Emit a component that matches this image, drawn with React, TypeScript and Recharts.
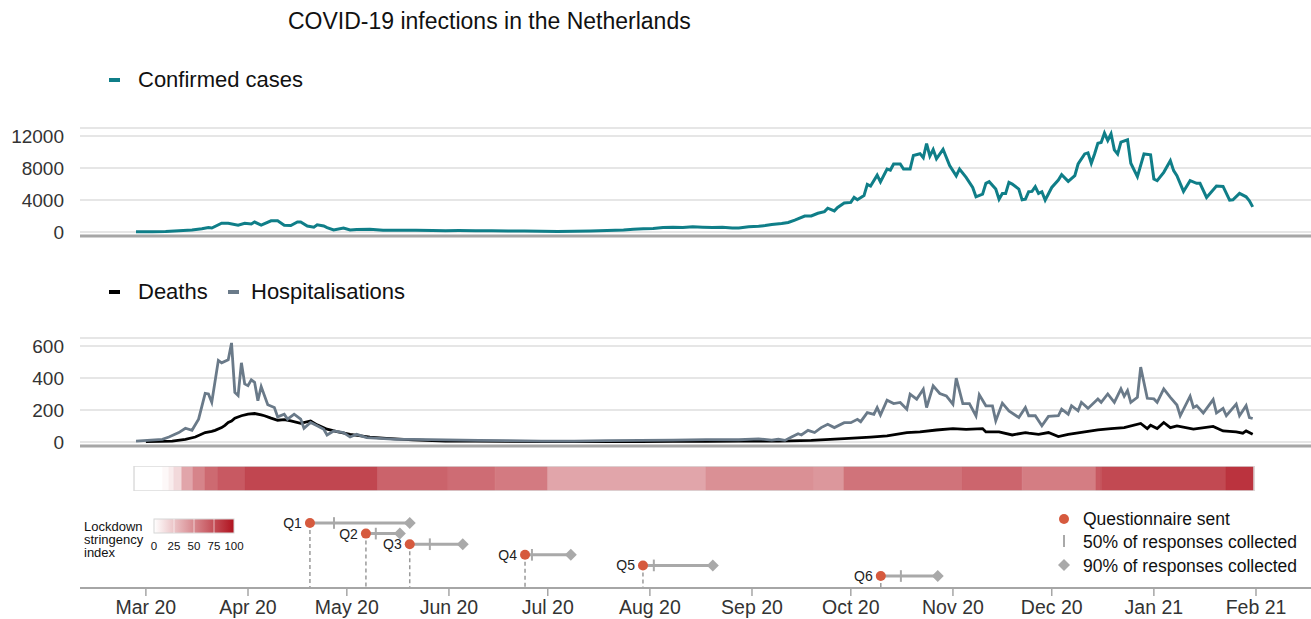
import React from "react";
import {
  LineChart, Line, ComposedChart, Scatter, XAxis, YAxis, CartesianGrid,
  ReferenceLine, ReferenceArea,
} from "recharts";

// days counted from 1 Mar 2020
const monthTicks = [0, 31, 61, 92, 122, 153, 184, 214, 245, 275, 306, 337];
const monthLabels = ["Mar 20", "Apr 20", "May 20", "Jun 20", "Jul 20", "Aug 20", "Sep 20", "Oct 20", "Nov 20", "Dec 20", "Jan 21", "Feb 21"];

const confirmedCases: [number, number][] = [
  [-3, 30], [2, 40], [6, 60], [10, 150], [14, 250], [17, 400], [19, 550], [20, 500], [23, 1100], [25, 1100],
  [28, 850], [30, 1100], [32, 1000], [33, 1250], [35, 850], [38, 1400], [40, 1400], [42, 850], [44, 800], [46, 1250],
  [47, 1250], [49, 750], [51, 600], [52, 900], [54, 750], [55, 550], [57, 250], [60, 500], [62, 250], [64, 300],
  [68, 350], [72, 230], [77, 220], [82, 220], [87, 200], [91, 170], [95, 180], [100, 150], [105, 170], [110, 130],
  [115, 120], [120, 80], [125, 70], [130, 90], [135, 130], [140, 180], [145, 250], [148, 350], [151, 400], [154, 450],
  [157, 550], [160, 600], [163, 550], [166, 650], [169, 600], [172, 550], [175, 600], [178, 500], [180, 510], [183, 650],
  [186, 720], [188, 800], [190, 940], [193, 1050], [195, 1190], [197, 1490], [200, 2000], [202, 2000], [204, 2340], [206, 2550],
  [207, 2980], [209, 2640], [210, 3060], [212, 3620], [214, 3700], [215, 4340], [216, 4040], [218, 4550], [219, 5960], [220, 5740],
  [222, 7100], [223, 6250], [225, 7870], [226, 7740], [227, 8510], [229, 8510], [230, 7870], [232, 7870], [233, 9570], [235, 9790],
  [236, 9280], [237, 11060], [238, 9490], [239, 10300], [240, 9150], [242, 10340], [244, 8300], [246, 7020], [247, 7880], [249, 6830],
  [251, 5570], [252, 4400], [254, 4730], [255, 6080], [256, 6290], [258, 5360], [259, 4100], [260, 4820], [261, 4820], [262, 6200],
  [263, 5990], [265, 5360], [266, 4020], [267, 4100], [268, 5030], [269, 5070], [270, 5660], [271, 4820], [272, 5030], [273, 3980],
  [275, 5570], [277, 6490], [278, 7160], [280, 6330], [282, 7040], [283, 8500], [285, 9760], [286, 9890], [287, 8590], [288, 9760],
  [289, 11100], [290, 11190], [291, 12360], [292, 11440], [293, 12280], [294, 10270], [295, 9760], [296, 11230], [298, 11520], [299, 8590],
  [301, 6910], [303, 9760], [305, 9640], [306, 6620], [307, 6410], [309, 7460], [311, 8920], [312, 7670], [313, 7040], [315, 5070],
  [317, 6410], [319, 6080], [320, 6080], [322, 4320], [325, 5740], [327, 5700], [329, 3980], [330, 4020], [332, 4820], [334, 4400],
  [335, 3900], [336, 3140],
];

const hospitalisations: [number, number][] = [
  [-3, 6], [5, 17], [7, 31], [10, 59], [12, 86], [14, 73], [16, 143], [18, 304], [19, 300], [20, 248],
  [22, 510], [23, 495], [25, 514], [26, 619], [27, 310], [28, 290], [29, 495], [30, 363], [31, 352], [32, 388],
  [33, 373], [34, 258], [35, 346], [37, 233], [39, 216], [40, 157], [42, 174], [43, 143], [45, 174], [47, 143],
  [48, 86], [50, 122], [52, 101], [54, 80], [55, 44], [57, 69], [60, 59], [62, 31], [64, 48], [67, 27],
  [71, 23], [76, 17], [81, 17], [91, 13], [101, 10], [110, 8], [120, 6], [130, 5], [140, 8], [150, 10],
  [160, 12], [170, 15], [180, 14], [186, 20], [190, 12], [192, 17], [194, 10], [196, 31], [198, 52], [199, 44],
  [201, 73], [203, 59], [205, 90], [207, 111], [209, 90], [212, 121], [214, 121], [216, 142], [217, 127], [219, 184],
  [221, 173], [222, 215], [223, 169], [225, 261], [227, 240], [229, 247], [231, 205], [232, 299], [234, 268], [235, 299],
  [236, 330], [237, 215], [239, 351], [241, 303], [243, 288], [245, 236], [246, 399], [248, 240], [250, 240], [252, 163],
  [253, 295], [255, 226], [257, 226], [258, 132], [260, 243], [262, 194], [265, 153], [267, 216], [268, 164], [270, 164],
  [272, 101], [274, 160], [277, 164], [278, 206], [280, 174], [281, 227], [283, 195], [284, 248], [286, 210], [289, 269],
  [290, 248], [292, 300], [294, 248], [296, 332], [297, 286], [298, 321], [299, 248], [301, 279], [302, 468], [304, 273],
  [306, 269], [307, 248], [309, 332], [311, 279], [313, 231], [314, 164], [317, 286], [318, 216], [319, 227], [321, 181],
  [324, 265], [325, 181], [327, 210], [328, 164], [331, 237], [332, 164], [334, 227], [335, 153], [336, 147],
];

const deaths: [number, number][] = [
  [0, 2], [8, 6], [12, 17], [15, 31], [18, 59], [20, 66], [21, 73], [23, 90], [24, 104], [25, 122], [26, 131],
  [27, 149], [29, 164], [31, 174], [33, 178], [35, 170], [36, 164], [38, 149], [40, 136], [42, 140], [44, 132],
  [47, 117], [50, 132], [52, 107], [55, 80], [58, 65], [62, 48], [68, 31], [73, 23], [81, 13], [91, 6],
  [100, 5], [110, 4], [120, 3], [130, 2], [140, 2], [150, 3], [160, 4], [170, 4], [180, 5], [192, 6],
  [202, 10], [212, 21], [220, 31], [225, 38], [231, 59], [235, 63], [240, 75], [245, 84], [249, 79], [254, 84],
  [255, 63], [259, 63], [263, 44], [267, 59], [268, 55], [271, 48], [274, 59], [277, 34], [280, 48], [285, 63],
  [289, 76], [293, 84], [297, 90], [302, 116], [304, 84], [305, 105], [307, 84], [309, 122], [311, 90], [313, 101],
  [318, 80], [324, 97], [327, 69], [331, 63], [333, 55], [334, 69], [336, 48],
];

// stringency index periods: [start day, end day, index]
const stringency: [number, number, number][] = [
  [-3.6, 5, 0], [5, 7, 3], [7, 8.5, 8], [8.5, 10.9, 16], [10.9, 14.3, 38], [14.3, 17.9, 52], [17.9, 21.9, 63],
  [21.9, 30, 70], [30, 70.4, 78], [70.4, 91.7, 66], [91.7, 106, 62], [106, 122, 56], [122, 170, 38],
  [170, 202.8, 47], [202.8, 211.9, 44], [211.9, 247.7, 59], [247.7, 266, 65], [266, 288.4, 55],
  [288.4, 290, 70], [290, 327.9, 77], [327.9, 336.4, 86],
];

const qNames = ["Q1", "Q2", "Q3", "Q4", "Q5", "Q6"];
const qSent = [49.8, 66.8, 80.1, 115.1, 150.9, 223.1];
const qHalf = [57.1, 69.8, 86.2, 117.2, 154.2, 229.2];
const qNinety = [80.1, 77.1, 96.2, 129.0, 172.1, 240.4];
const qRow = [6, 5, 4, 3, 2, 1];

const FONT = '"Liberation Sans", Arial, Helvetica, sans-serif';
const X_DOMAIN: [number, number] = [-20, 353.7];
const W = 1311;
const TEAL = "#0f7e88";
const HOSP = "#6a7a89";
const RED = "#d65a3e";
const GREY = "#a9a9a9";
const END_RGB = [176, 18, 30];

function stringencyColor(v: number) {
  const t = v / 100;
  const c = END_RGB.map((e) => Math.round(255 + (e - 255) * t));
  return `rgb(${c[0]},${c[1]},${c[2]})`;
}

const toPoints = (arr: [number, number][]) => arr.map(([day, value]) => ({ day, value }));
const casesData = toPoints(confirmedCases);
const hospData = toPoints(hospitalisations);
const deathData = toPoints(deaths);
const stripPoints = stringency.map(([s]) => ({ day: s, value: 0.5 }));
const qSentPts = qNames.map((n, i) => ({ x: qSent[i], y: qRow[i], name: n }));
const q90Pts = qNames.map((n, i) => ({ x: qNinety[i], y: qRow[i], name: n }));
const Y_BOTTOM = -0.13;

const yTick = { fontSize: 19, fill: "#333" };

function Dash({ color, x, y }: { color: string; x: number; y: number }) {
  return <div style={{ position: "absolute", left: x, top: y - 2, width: 11, height: 4, background: color }} />;
}

function LegendText({ x, y, size, children }: { x: number; y: number; size: number; children: React.ReactNode }) {
  return (
    <div style={{ position: "absolute", left: x, top: y - size * 0.6, fontSize: size, lineHeight: `${size * 1.2}px`, color: "#111", whiteSpace: "nowrap" }}>
      {children}
    </div>
  );
}

export default function App() {
  return (
    <div style={{ position: "absolute", left: 0, top: 0, width: W, height: 619, background: "#fff", fontFamily: FONT, overflow: "hidden" }}>
      <div style={{ position: "absolute", left: 288, top: 8, fontSize: 23, color: "#111", whiteSpace: "nowrap" }}>
        COVID-19 infections in the Netherlands
      </div>

      <Dash color={TEAL} x={109} y={80} />
      <LegendText x={138} y={80} size={22}>Confirmed cases</LegendText>

      <div style={{ position: "absolute", left: 0, top: 108 }}>
        <LineChart width={W} height={143} data={casesData} margin={{ top: 20, right: 0, bottom: 15, left: 0 }}>
          <CartesianGrid vertical={false} stroke="#e6e6e6" strokeWidth={2} />
          <XAxis type="number" dataKey="day" domain={X_DOMAIN} hide />
          <YAxis type="number" domain={[-500, 13000]} ticks={[0, 4000, 8000, 12000]} interval={0} width={80}
            axisLine={false} tickLine={false} tickMargin={10} tick={yTick} />
          <ReferenceLine y={0} stroke="#e6e6e6" strokeWidth={2} />
          <ReferenceLine y={-500} stroke="#a6a6a6" strokeWidth={3} />
          <Line dataKey="value" stroke={TEAL} strokeWidth={3} dot={false} isAnimationActive={false} />
        </LineChart>
      </div>

      <Dash color="#000" x={109} y={292} />
      <LegendText x={138} y={292} size={22}>Deaths</LegendText>
      <Dash color={HOSP} x={228} y={292} />
      <LegendText x={251} y={292} size={22}>Hospitalisations</LegendText>

      <div style={{ position: "absolute", left: 0, top: 318 }}>
        <LineChart width={W} height={143} margin={{ top: 20, right: 0, bottom: 15, left: 0 }}>
          <CartesianGrid vertical={false} stroke="#e6e6e6" strokeWidth={2} />
          <XAxis type="number" dataKey="day" domain={X_DOMAIN} hide />
          <YAxis type="number" domain={[-25, 650]} ticks={[0, 200, 400, 600]} interval={0} width={80}
            axisLine={false} tickLine={false} tickMargin={10} tick={yTick} />
          <ReferenceLine y={0} stroke="#e6e6e6" strokeWidth={2} />
          <ReferenceLine y={-25} stroke="#a6a6a6" strokeWidth={3} />
          <Line data={deathData} dataKey="value" stroke="#000" strokeWidth={2.8} dot={false} isAnimationActive={false} />
          <Line data={hospData} dataKey="value" stroke={HOSP} strokeWidth={2.8} dot={false} isAnimationActive={false} />
        </LineChart>
      </div>

      <div style={{ position: "absolute", left: 0, top: 466 }}>
        <ComposedChart width={W} height={25} data={stripPoints} margin={{ top: 0, right: 0, bottom: 0, left: 80 }}>
          <XAxis type="number" dataKey="day" domain={X_DOMAIN} hide />
          <YAxis type="number" domain={[0, 1]} hide />
          {stringency.map(([s, e, v]) => (
            <ReferenceArea key={s} x1={s} x2={e} y1={0} y2={1} fill={stringencyColor(v)} fillOpacity={1}
              stroke={stringencyColor(v)} strokeWidth={0.6} />
          ))}
          <ReferenceArea x1={stringency[0][0]} x2={stringency[stringency.length - 1][1]} y1={0} y2={1}
            fill="none" stroke="#dcdcdc" strokeWidth={1.5} />
          <Line dataKey="value" stroke="none" dot={false} isAnimationActive={false} />
        </ComposedChart>
      </div>

      <div style={{ position: "absolute", left: 0, top: 500 }}>
        <ComposedChart width={W} height={119} margin={{ top: 0, right: 0, bottom: 0, left: 80 }}>
          <XAxis type="number" dataKey="x" domain={X_DOMAIN} ticks={monthTicks} interval={0}
            tickFormatter={(v: number) => monthLabels[monthTicks.indexOf(v)]}
            height={31} axisLine={{ stroke: "#a6a6a6", strokeWidth: 2 }} tickLine={{ stroke: "#a6a6a6", strokeWidth: 1.5 }}
            tickSize={8} tickMargin={4} tick={{ fontSize: 19.5, fill: "#333" }} />
          <YAxis type="number" dataKey="y" domain={[Y_BOTTOM, 8.17]} hide />
          {qNames.map((n, i) => (
            <ReferenceLine key={n + "d"} segment={[{ x: qSent[i], y: qRow[i] }, { x: qSent[i], y: Y_BOTTOM }]}
              stroke="#9a9a9a" strokeWidth={1.5} strokeDasharray="4 3" />
          ))}
          {qNames.map((n, i) => (
            <ReferenceLine key={n + "l"} segment={[{ x: qSent[i], y: qRow[i] }, { x: qNinety[i], y: qRow[i] }]}
              stroke={GREY} strokeWidth={3} />
          ))}
          {qNames.map((n, i) => (
            <ReferenceLine key={n + "h"} segment={[{ x: qHalf[i], y: qRow[i] - 0.55 }, { x: qHalf[i], y: qRow[i] + 0.55 }]}
              stroke={GREY} strokeWidth={2} />
          ))}
          <Scatter data={q90Pts} isAnimationActive={false}
            shape={(p: any) => (
              <polygon points={`${p.cx},${p.cy - 6} ${p.cx + 6},${p.cy} ${p.cx},${p.cy + 6} ${p.cx - 6},${p.cy}`} fill={GREY} />
            )} />
          <Scatter data={qSentPts} isAnimationActive={false}
            shape={(p: any) => (
              <g>
                <circle cx={p.cx} cy={p.cy} r={5} fill={RED} />
                <text x={p.cx - 8} y={p.cy} dy="0.35em" textAnchor="end" fontSize={14} fill="#222">{p.payload.name}</text>
              </g>
            )} />
        </ComposedChart>
      </div>

      {/* stringency legend */}
      <div style={{ position: "absolute", left: 84, top: 520, fontSize: 13, lineHeight: "13px", color: "#111" }}>
        Lockdown<br />stringency<br />index
      </div>
      <svg style={{ position: "absolute", left: 150, top: 515 }} width={100} height={40}>
        <defs>
          <linearGradient id="sg" x1="0" x2="1" y1="0" y2="0">
            <stop offset="0" stopColor={stringencyColor(0)} />
            <stop offset="1" stopColor={stringencyColor(100)} />
          </linearGradient>
        </defs>
        <rect x={4} y={4} width={80} height={14} fill="url(#sg)" stroke="#d6d6d6" strokeWidth={1} />
        {[25, 50, 75].map((v) => (
          <line key={v} x1={4 + v * 0.8} x2={4 + v * 0.8} y1={4} y2={18} stroke="#fff" strokeOpacity={0.6} />
        ))}
        {[0, 25, 50, 75, 100].map((v) => (
          <text key={v} x={4 + v * 0.8} y={35} textAnchor="middle" fontSize={11.5} fill="#111">{v}</text>
        ))}
      </svg>

      {/* questionnaire legend */}
      <svg style={{ position: "absolute", left: 1054, top: 508 }} width={20} height={70}>
        <circle cx={10} cy={11} r={5} fill={RED} />
        <line x1={10} x2={10} y1={27} y2={39} stroke={GREY} strokeWidth={2} />
        <polygon points="10,51 16,57 10,63 4,57" fill={GREY} />
      </svg>
      <LegendText x={1083} y={519} size={17.5}>Questionnaire sent</LegendText>
      <LegendText x={1083} y={542} size={17.5}>50% of responses collected</LegendText>
      <LegendText x={1083} y={566} size={17.5}>90% of responses collected</LegendText>
    </div>
  );
}
